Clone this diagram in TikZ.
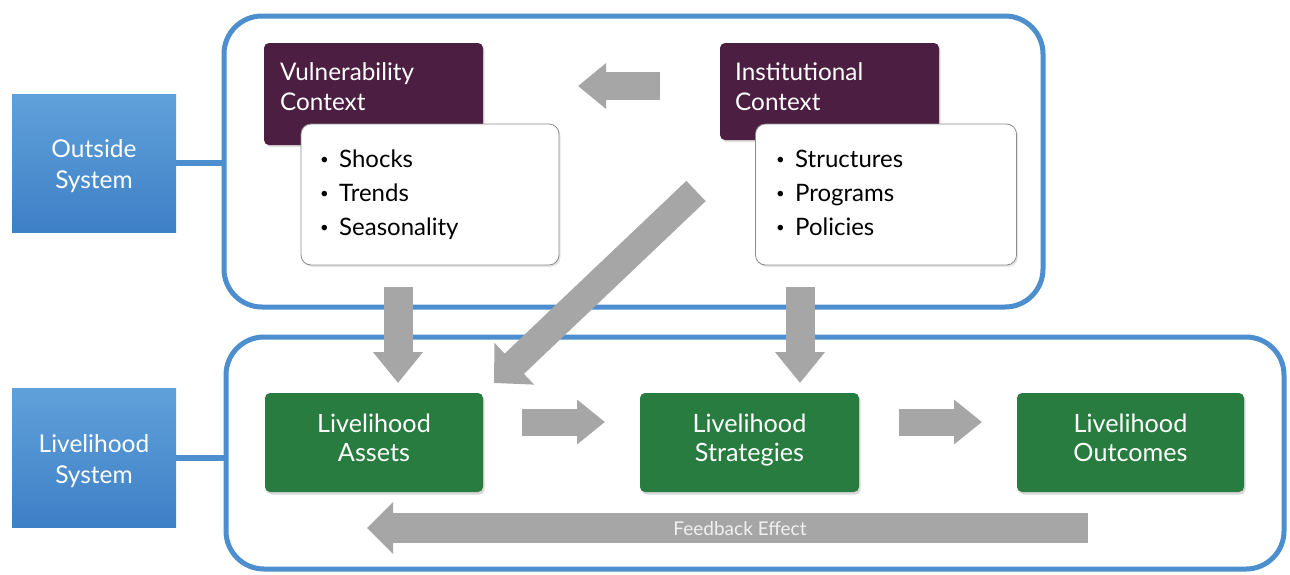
\documentclass[tikz,border=0pt]{standalone}
\usepackage{fontspec}
\setmainfont{Lato}
\usetikzlibrary{arrows.meta,shadows}

\definecolor{frameblue}{RGB}{76,142,206}
\definecolor{sysblueTop}{RGB}{96,160,218}
\definecolor{sysblueBot}{RGB}{62,128,198}
\definecolor{ctxpurple}{RGB}{76,31,66}
\definecolor{lhgreen}{RGB}{40,124,64}
\definecolor{arrowgray}{RGB}{166,166,166}
\definecolor{fbtext}{RGB}{240,240,240}
\definecolor{boxline}{RGB}{140,140,140}

% small list bullet
\newcommand{\itembullet}{\makebox[19pt][l]{\raisebox{2.5pt}{\scalebox{0.62}{•}}}}

\begin{document}
\begin{tikzpicture}[x=1pt,y=-1pt,
  frame/.style={draw=frameblue, line width=5pt, rounded corners=38pt, inner sep=0},
  link/.style={draw=frameblue, line width=6pt},
  sysbox/.style={rectangle, top color=sysblueTop, bottom color=sysblueBot, draw=none, inner sep=0},
  systext/.style={anchor=base, text=white, font=\fontsize{24.5}{28}\selectfont, inner sep=0},
  ctxbox/.style={rectangle, fill=ctxpurple, rounded corners=5pt, inner sep=0,
    drop shadow={opacity=0.25, shadow xshift=1.5pt, shadow yshift=-2pt}},
  ctxtext/.style={anchor=base west, text=white, font=\fontsize{24.3}{28}\selectfont, inner sep=0},
  listbox/.style={rectangle, fill=white, draw=boxline, line width=0.8pt, rounded corners=10pt, inner sep=0,
    drop shadow={opacity=0.2, shadow xshift=1.5pt, shadow yshift=-2pt}},
  itemtext/.style={anchor=base west, text=black, font=\fontsize{24}{28}\selectfont, inner sep=0},
  lhbox/.style={rectangle, fill=lhgreen, rounded corners=5pt, inner sep=0,
    drop shadow={opacity=0.3, shadow xshift=1.5pt, shadow yshift=-2.5pt}},
  lhtext/.style={anchor=base, text=white, font=\fontsize{25.2}{28}\selectfont, inner sep=0},
  blockarrow/.style={draw=arrowgray, line width=#1, line cap=butt},
  fbtextstyle/.style={anchor=base, text=fbtext, font=\fontsize{19}{22}\selectfont, inner sep=0}
]
\useasboundingbox (0,0) rectangle (1290,574);
\fill[white] (0,0) rectangle (1290,574);

% system frames
\node[frame, minimum width=819pt, minimum height=291pt] (outer) at (633.5,161.5) {};
\node[frame, minimum width=1058pt, minimum height=232pt] (inner) at (755,453) {};

% system labels and their links
\node[sysbox, minimum width=164pt, minimum height=138pt] (outside) at (94,163) {};
\node[sysbox, minimum width=164pt, minimum height=139pt] (lhsys) at (94,457.5) {};
\draw[link] (outside.east) -- (outside.east -| outer.west);
\draw[link] (lhsys.east) -- (lhsys.east -| inner.west);
\node[systext] (out-a) at (94,157) {Outside};
\node[systext] (out-b) at (94,188) {System};
\node[systext] (lhs-a) at (94,452) {Livelihood};
\node[systext] (lhs-b) at (94,483) {System};

% contexts
\node[ctxbox, minimum width=219pt, minimum height=102pt] (vul) at (373.5,94) {};
\node[ctxbox, minimum width=219pt, minimum height=97pt] (inst) at (829.5,91.5) {};
\node[ctxtext] (vul-a) at (280,80) {Vulnerability};
\node[ctxtext] (vul-b) at (280,110) {Context};
\node[ctxtext] (inst-a) at (735,80) {Institutional};
\node[ctxtext] (inst-b) at (735,110) {Context};

% lists
\node[listbox, minimum width=258pt, minimum height=141pt] (vlist) at (430,194.5) {};
\node[listbox, minimum width=261pt, minimum height=141pt] (ilist) at (886,194.5) {};
\node[itemtext] (v1) at (320,167) {\itembullet Shocks};
\node[itemtext] (v2) at (320,201) {\itembullet Trends};
\node[itemtext] (v3) at (320,235) {\itembullet Seasonality};
\node[itemtext] (i1) at (776,167) {\itembullet Structures};
\node[itemtext] (i2) at (776,201) {\itembullet Programs};
\node[itemtext] (i3) at (776,235) {\itembullet Policies};

% livelihood boxes
\node[lhbox, minimum width=218pt, minimum height=99pt] (assets) at (374,442.5) {};
\node[lhbox, minimum width=219pt, minimum height=99pt] (strat) at (749.5,442.5) {};
\node[lhbox, minimum width=227pt, minimum height=99pt] (outc) at (1130.5,442.5) {};
\node[lhtext] (as-a) at (assets.center |- 0,432) {Livelihood};
\node[lhtext] (as-b) at (assets.center |- 0,461) {Assets};
\node[lhtext] (st-a) at (strat.center |- 0,432) {Livelihood};
\node[lhtext] (st-b) at (strat.center |- 0,461) {Strategies};
\node[lhtext] (oc-a) at (outc.center |- 0,432) {Livelihood};
\node[lhtext] (oc-b) at (outc.center |- 0,461) {Outcomes};

% arrow end points
\coordinate (ia-s) at (660,86);   \coordinate (ia-e) at (578,86);
\coordinate (dg-s) at (696,191);  \coordinate (dg-e) at (494,383);
\coordinate (dl-s) at (398,287);  \coordinate (dl-e) at (398,383);
\coordinate (dr-s) at (800,287);  \coordinate (dr-e) at (800,383);
\coordinate (r1-s) at (522,422);  \coordinate (r1-e) at (605,422);
\coordinate (r2-s) at (899,422);  \coordinate (r2-e) at (982,422);
\coordinate (fb-s) at (1088,528); \coordinate (fb-e) at (367,528);

% block arrows
\draw[blockarrow=28pt, -{Triangle[length=28pt,width=44pt]}] (ia-s) -- (ia-e);
\draw[blockarrow=28pt, -{Triangle[length=28pt,width=56pt]}] (dg-s) -- (dg-e);
\draw[blockarrow=29pt, -{Triangle[length=31pt,width=48pt]}] (dl-s) -- (dl-e);
\draw[blockarrow=29pt, -{Triangle[length=31pt,width=48pt]}] (dr-s) -- (dr-e);
\draw[blockarrow=27pt, -{Triangle[length=28pt,width=43pt]}] (r1-s) -- (r1-e);
\draw[blockarrow=27pt, -{Triangle[length=28pt,width=43pt]}] (r2-s) -- (r2-e);
\draw[blockarrow=30pt, -{Triangle[length=26pt,width=50pt]}] (fb-s) -- (fb-e);
\node[fbtextstyle] (fb-label) at (740,535) {Feedback Effect};
\end{tikzpicture}
\end{document}
